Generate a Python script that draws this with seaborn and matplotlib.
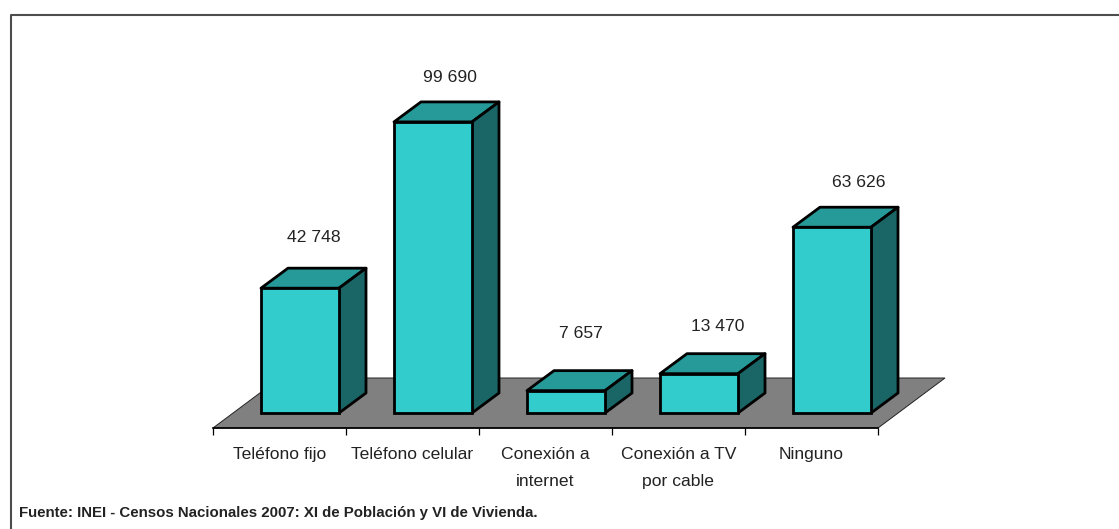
import matplotlib
matplotlib.use('Agg')
import matplotlib.pyplot as plt
from matplotlib.lines import Line2D
from matplotlib.patches import Polygon
import seaborn as sns
import pandas as pd

categorias = ['Teléfono fijo', 'Teléfono celular', 'Conexión a\ninternet', 'Conexión a TV\npor cable', 'Ninguno']
valores = [42748, 99690, 7657, 13470, 63626]
etiquetas = ['42 748', '99 690', '7 657', '13 470', '63 626']
fuente = 'Fuente: INEI - Censos Nacionales 2007: XI de Población y VI de Vivienda.'

# ajuste a mano de las etiquetas (pixeles)
ajuste_x = [0, 3, 1, 5, 13]
ajuste_y = [31, 24, 37, 27, 25]

W, H = 1119, 529
PX_Y = 0.00292  # pixeles por unidad

sns.set_theme(style='white')
plt.rcParams['font.family'] = ['Liberation Sans', 'DejaVu Sans']

fig = plt.figure(figsize=(W / 100, H / 100), dpi=100)

def caja(x0, y_top, x1, y_bot):
    return [x0 / W, 1 - y_bot / H, (x1 - x0) / W, (y_bot - y_top) / H]

# marco exterior: solo arriba e izquierda
fig.add_artist(Line2D([11 / W, 11 / W, 1], [0, 1 - 14.5 / H, 1 - 14.5 / H], transform=fig.transFigure,
                      color='#4d4d4d', lw=1.5))

# eje del piso con las categorias
ax_piso = fig.add_axes(caja(213, 378, 878, 428))
ax_piso.set_xlim(-0.5, 4.5)
ax_piso.set_ylim(0, 1)
ax_piso.patch.set_alpha(0)
for s in ['top', 'left', 'right']:
    ax_piso.spines[s].set_visible(False)
ax_piso.spines['bottom'].set_color('black')
ax_piso.spines['bottom'].set_linewidth(1.2)
ax_piso.set_yticks([])
ax_piso.set_xticks([-0.5, 0.5, 1.5, 2.5, 3.5, 4.5])
ax_piso.set_xticklabels([])
ax_piso.tick_params(axis='x', length=5, width=0.9, color='black', direction='out', bottom=True)
dx_piso = 67 / 133
ax_piso.add_patch(Polygon([(-0.5, 0), (4.5, 0), (4.5 + dx_piso, 1), (-0.5 + dx_piso, 1)],
                          closed=True, fc='#808080', ec='#222222', lw=0.7, clip_on=False))
for i, cat in enumerate(categorias):
    ax_piso.annotate(cat, (i, 0), xycoords=('data', 'axes fraction'), xytext=(0, -13.5), textcoords='offset points',
                     ha='center', va='top', fontsize=12.6, color='#222222', linespacing=2.05)

# barras, desplazadas sobre el piso
ax = fig.add_axes(caja(233.5, 413 - 99690 * PX_Y * 1.2, 898.5, 413))
ax.patch.set_alpha(0)
df = pd.DataFrame({'cat': categorias, 'valor': valores})
sns.barplot(data=df, x='cat', y='valor', ax=ax, color='#33CCCC', saturation=1, width=78 / 133,
            edgecolor='black', linewidth=2, zorder=3)
ax.set_xlim(-0.5, 4.5)
ax.set_ylim(0, 99690 * 1.2)
ax.axis('off')

dx = 27 / 133
dy = 20 / PX_Y
for bar, txt, ax_x, ax_y in zip(ax.patches, etiquetas, ajuste_x, ajuste_y):
    bar.set_clip_on(False)
    x0, x1, h = bar.get_x(), bar.get_x() + bar.get_width(), bar.get_height()
    ax.add_patch(Polygon([(x0, h), (x1, h), (x1 + dx, h + dy), (x0 + dx, h + dy)], closed=True,
                         fc='#269999', ec='black', lw=2, joinstyle='round', zorder=2, clip_on=False))
    ax.add_patch(Polygon([(x1, 0), (x1 + dx, dy), (x1 + dx, h + dy), (x1, h)], closed=True,
                         fc='#1A6666', ec='black', lw=2, joinstyle='round', zorder=2, clip_on=False))
    ax.annotate(txt, (x0 + dx / 2 + (x1 - x0) / 2, h + dy), xytext=(ax_x * 0.72, ax_y * 0.72),
                textcoords='offset points', ha='center', va='center', fontsize=12.6, color='#222222',
                annotation_clip=False)

fig.text(19 / W, 1 - 513.5 / H, fuente, fontsize=10.85, fontweight='bold', color='#222222', ha='left', va='center')

fig.savefig('out.png', dpi=100)
